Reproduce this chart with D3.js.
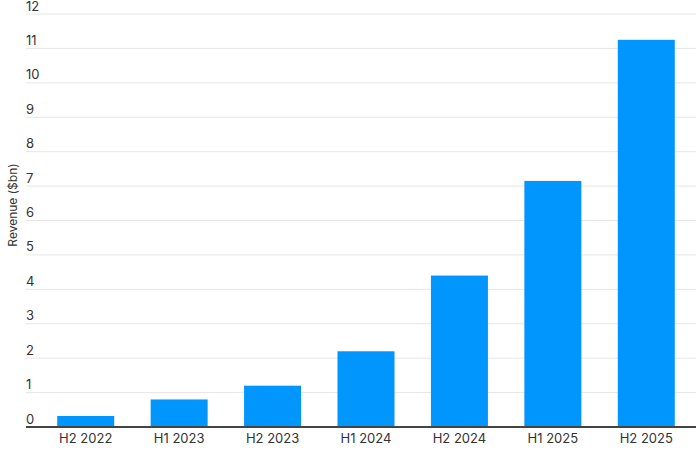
<!DOCTYPE html><html><head><meta charset="utf-8"><script src="https://cdn.jsdelivr.net/npm/d3@7"></script>
<style>body{margin:0;background:#fff}text{font-family:"Inter","Open Sans",sans-serif;fill:#333}</style></head><body><svg id="c" width="696" height="467"></svg>
<script>
const categories=["H2 2022","H1 2023","H2 2023","H1 2024","H2 2024","H1 2025","H2 2025"];
const revenue=[0.32,0.8,1.2,2.2,4.4,7.15,11.25];
const yTicks=[0,1,2,3,4,5,6,7,8,9,10,11,12];
const svg=d3.select("#c");
const x=d3.scaleBand().domain(categories).range([39,693]).paddingInner(0.39).paddingOuter(0.195);
const y=d3.scaleLinear().domain([0,12]).range([427,14]);
const g=svg.append("g");
yTicks.forEach(t=>{
 if(t>0)g.append("line").attr("x1",26).attr("x2",696).attr("y1",y(t)).attr("y2",y(t)).attr("stroke","#e6e6e6");
 g.append("text").attr("x",26).attr("y",y(t)-3.5).attr("font-size",13).text(t);
});
svg.selectAll("rect").data(revenue).join("rect").attr("x",(d,i)=>x(categories[i])).attr("width",x.bandwidth())
 .attr("y",d=>y(d)).attr("height",d=>y(0)-y(d)).attr("fill","#0096fe");
svg.append("line").attr("x1",26).attr("x2",696).attr("y1",427).attr("y2",427).attr("stroke","#444").attr("stroke-width",2);
categories.forEach(c=>svg.append("text").attr("x",x(c)+x.bandwidth()/2).attr("y",443).attr("text-anchor","middle").attr("font-size",13).text(c));
svg.append("text").attr("transform","translate(17,205) rotate(-90)").attr("text-anchor","middle").attr("font-size",12).text("Revenue ($bn)");
</script></body></html>
